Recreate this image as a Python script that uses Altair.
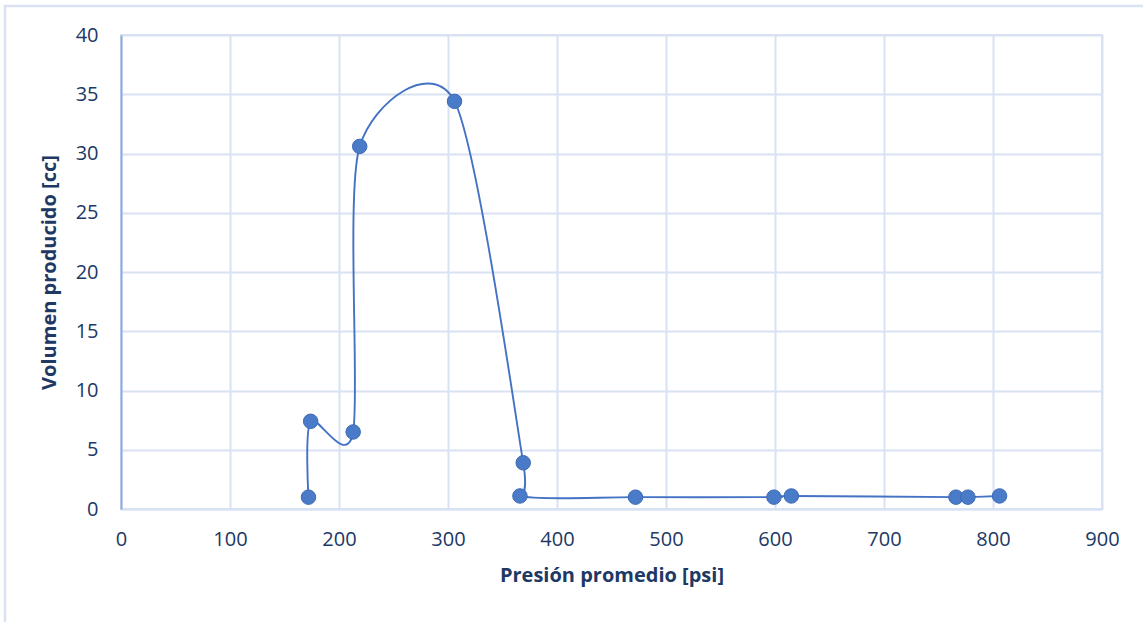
import altair as alt
import pandas as pd

# Average pressure [psi] and produced volume [cc], in drawing order
presion = [172, 174, 213, 219, 306, 369, 366, 472, 599, 615, 766, 777, 806]
volumen = [1.0, 7.4, 6.5, 30.6, 34.4, 3.9, 1.1, 1.0, 1.0, 1.1, 1.0, 1.0, 1.1]
orden = list(range(len(presion)))

x_ticks = [0, 100, 200, 300, 400, 500, 600, 700, 800, 900]
y_ticks = [0, 5, 10, 15, 20, 25, 30, 35, 40]

df = pd.DataFrame({"presion": presion, "volumen": volumen, "orden": orden})

TEXT = "#203864"
GRID = "#D9E2F3"
BLUE = "#4472C4"
FONT = "Open Sans"

x_enc = alt.X(
    "presion:Q",
    scale=alt.Scale(domain=[0, 900], nice=False),
    axis=alt.Axis(
        values=x_ticks,
        title="Presión promedio [psi]",
        titleFontWeight="bold",
        titleFontSize=20,
        titleColor=TEXT,
        titlePadding=16,
        labelFontSize=20,
        labelColor=TEXT,
        labelPadding=20,
        labelFlush=False,
        ticks=False,
        domainColor=GRID,
        domainWidth=2,
        gridColor=GRID,
        gridWidth=2,
    ),
)
y_enc = alt.Y(
    "volumen:Q",
    scale=alt.Scale(domain=[0, 40], nice=False),
    axis=alt.Axis(
        values=y_ticks,
        title="Volumen producido [cc]",
        titleFontWeight="bold",
        titleFontSize=20,
        titleColor=TEXT,
        titlePadding=16,
        labelFontSize=20,
        labelColor=TEXT,
        labelPadding=23,
        labelFlush=False,
        ticks=False,
        domainColor="#8FAADC",
        domainWidth=2,
        gridColor=GRID,
        gridWidth=2,
    ),
)

base = alt.Chart(df)

line = base.mark_line(
    color=BLUE, strokeWidth=1.9, interpolate="cardinal", tension=0.18
).encode(x=x_enc, y=y_enc, order="orden:O")

points = base.mark_circle(
    size=210, color="#4A7BC8", opacity=1, stroke="#3D69B3", strokeWidth=1
).encode(x="presion:Q", y="volumen:Q")

# Light frame around the whole chart area
frame = alt.Chart(pd.DataFrame({"k": [0]})).mark_rect(
    fill=None, stroke=GRID, strokeWidth=2.5
).encode(
    x=alt.value(-116),
    x2=alt.value(1200),
    y=alt.value(-29),
    y2=alt.value(700),
)

chart = (
    alt.layer(frame, line, points)
    .properties(
        width=981,
        height=474,
        padding={"left": 121, "top": 35, "right": 41, "bottom": 113},
        autosize="none",
        background="white",
    )
    .configure_view(stroke=GRID, strokeWidth=2)
    .configure_axis(labelFont=FONT, titleFont=FONT)
)

chart.save("out.html", embed_options={"renderer": "svg", "actions": False})
